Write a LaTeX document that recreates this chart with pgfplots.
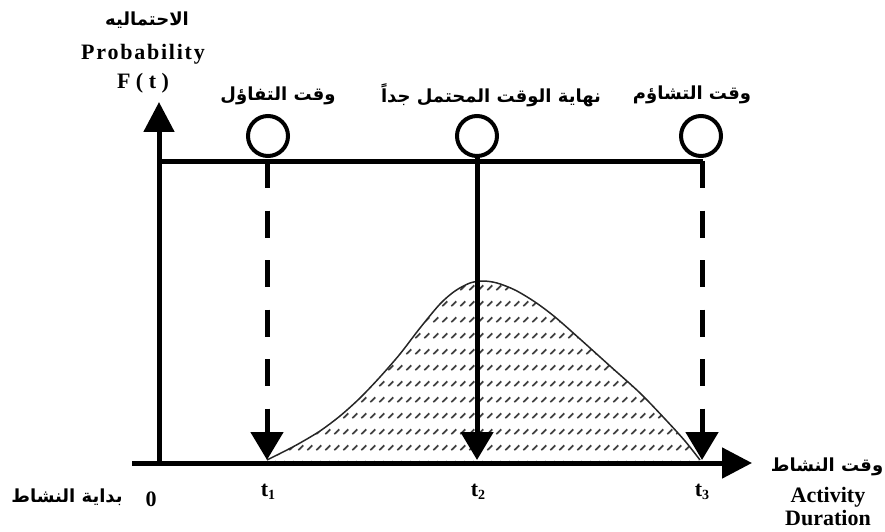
\documentclass[border=0pt]{standalone}
\usepackage{fontspec}
\setmainfont{Liberation Serif}
\newfontfamily\arabicfont[Script=Arabic]{DejaVu Sans}
\TeXXeTstate=1
\usepackage{pgfplots}
\pgfplotsset{compat=1.18}
\usepgfplotslibrary{fillbetween}
\usetikzlibrary{arrows.meta,patterns}

% rows of short slanted strokes under the density curve
\pgfdeclarepatternformonly{slashrows}{\pgfpointorigin}{\pgfpoint{9pt}{16pt}}{\pgfpoint{9pt}{16pt}}{%
  \pgfsetlinewidth{1.9pt}%
  \pgfpathmoveto{\pgfpoint{1.5pt}{2pt}}%
  \pgfpathlineto{\pgfpoint{7pt}{7pt}}%
  \pgfusepath{stroke}%
}

\newcommand{\ar}[1]{{\arabicfont\bfseries\fontsize{18}{21}\selectfont\beginR #1\endR}}
\newcommand{\lt}{\bfseries\fontsize{22}{24}\selectfont}

\begin{document}
\begin{tikzpicture}
\begin{axis}[
  scale only axis, width=885pt, height=531pt,
  xmin=0, xmax=885, ymin=0, ymax=531,
  hide axis, clip=false,
]
% beta-like activity time distribution between t1 and t3
\addplot[name path=curve, smooth, tension=0.5, line width=1.5pt, black!85] coordinates {
  (267,71) (285,80) (300,88) (320,100) (340,115) (360,133) (380,154)
  (400,177) (420,203) (440,227) (455,240) (470,248) (483,250) (497,248)
  (515,241) (535,229) (555,214) (580,192) (610,165) (640,138) (665,112)
  (685,90) (700,71)
};
\addplot[name path=base, draw=none] coordinates {(267,70) (700,70)};
\addplot[pattern=slashrows, pattern color=black!75] fill between[of=curve and base];

% axes
\addplot[line width=5pt, -{Triangle[length=30pt,width=30pt]}] coordinates {(132,68) (752,68)};
\addplot[line width=5pt, -{Triangle[length=30pt,width=30pt]}] coordinates {(159,66) (159,429)};
% probability level line
\addplot[line width=5pt] coordinates {(159,369) (703,369)};

% time markers
\addplot[line width=5pt, dash pattern=on 27pt off 22.5pt, dash phase=44.5pt,
  -{Triangle[length=28pt,width=32pt]}] coordinates {(267,375) (267,71)};
\addplot[line width=5pt, -{Triangle[length=28pt,width=32pt]}] coordinates {(477,375) (477,71)};
\addplot[line width=5pt, dash pattern=on 27pt off 22.5pt, dash phase=44.5pt,
  -{Triangle[length=28pt,width=32pt]}] coordinates {(702,375) (702,71)};

\addplot[only marks, mark=*, mark size=20pt,
  mark options={draw=black, fill=white, line width=4pt}]
  coordinates {(268,395) (477,395) (701,395)};

% labels
\node at (axis cs:147,511) {\ar{الاحتماليه}};
\node[font=\lt] at (axis cs:143,477) {\addfontfeatures{LetterSpace=8}Probability};
\node[font=\lt] at (axis cs:143,448) {F ( t )};

\node at (axis cs:278,435) {\ar{وقت التفاؤل}};
\node at (axis cs:491,436) {\ar{نهاية الوقت المحتمل جداً}};
\node at (axis cs:692,436) {\ar{وقت التشاؤم}};

\node at (axis cs:67,34) {\ar{بداية النشاط}};
\node[font=\lt] at (axis cs:151,32) {0};
\node[font=\lt] at (axis cs:268,39) {t\raisebox{-0.35ex}{\fontsize{14}{14}\selectfont 1}};
\node[font=\lt] at (axis cs:478,39) {t\raisebox{-0.35ex}{\fontsize{14}{14}\selectfont 2}};
\node[font=\lt] at (axis cs:702,39) {t\raisebox{-0.35ex}{\fontsize{14}{14}\selectfont 3}};

\node at (axis cs:827,64) {\ar{وقت النشاط}};
\node[font=\lt] at (axis cs:828,34) {Activity};
\node[font=\lt, inner ysep=1pt] at (axis cs:828,13) {Duration};
\end{axis}
\pgfresetboundingbox
\path (0,0) rectangle (885pt,531pt);
\end{tikzpicture}
\end{document}
